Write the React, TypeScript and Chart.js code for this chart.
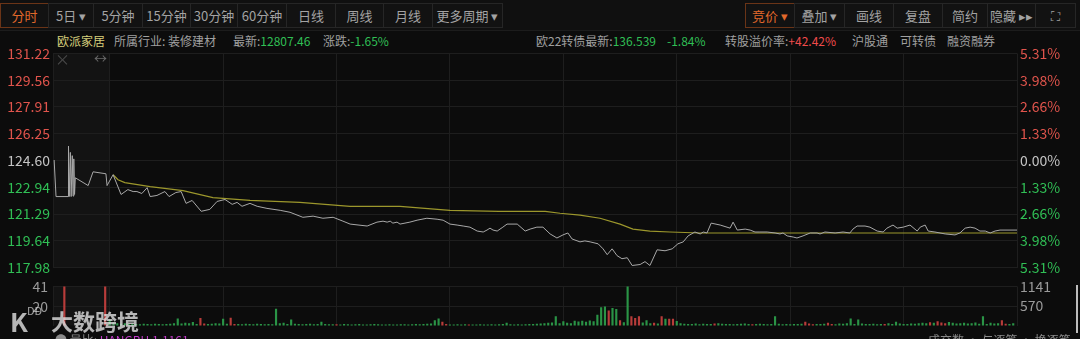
import React, { useEffect, useRef } from 'react';
import { Chart, registerables } from 'chart.js';

Chart.register(...registerables);

// ---------- data ----------
const PREV_CLOSE = 124.6;
const priceTicks = [131.22, 129.56, 127.91, 126.25, 124.6, 122.94, 121.29, 119.64, 117.98];
const pctLabels = ['5.31%', '3.98%', '2.66%', '1.33%', '0.00%', '1.33%', '2.66%', '3.98%', '5.31%'];
// minutes since 9:15 (auction 9:15-9:30, trading 9:30-15:00)
const timeGrid = [0, 15, 45, 75, 105, 135, 165, 195, 225, 255];

const priceTimes = [
  0.3, 0.8, 4.0, 4.1, 4.3, 4.6, 4.8, 5.1, 5.3, 5.5, 5.7, 5.9, 9.3, 10.6, 14.0, 14.3, 15.9,
  18.0, 19.8, 21.2, 22.2, 23.5, 24.9, 25.7, 27.5, 29.6, 30.7, 32.5, 33.9, 35.2, 36.8, 39.2,
  41.5, 43.4, 45.5, 47.4, 48.7, 50.0, 52.1, 54.0, 56.6, 60.1, 62.7, 66.1, 68.8, 71.4, 74.1,
  76.7, 78.6, 83.1, 85.7, 87.3, 88.4, 89.2, 89.9, 91.0, 91.8, 94.4, 96.3, 98.9, 101.6, 103.2,
  105.0, 106.9, 108.5, 110.3, 112.2, 113.8, 114.8, 115.6, 116.4, 117.5, 119.0, 120.1, 122.8,
  124.9, 126.2, 128.0, 129.6, 131.5, 133.3, 134.9, 136.2, 137.3, 139.4, 140.7, 142.1, 144.2,
  145.5, 146.6, 147.9, 149.2, 150.5, 151.9, 153.2, 155.3, 156.6, 157.9, 159.8, 161.9, 163.8,
  165.3, 166.7, 168.0, 169.8, 171.2, 172.0, 173.0, 174.1, 176.5, 179.1, 179.9, 181.0, 183.1,
  184.4, 185.7, 187.0, 188.9, 191.0, 192.3, 193.1, 194.2, 195.8, 196.8, 198.4, 200.3, 202.1,
  202.9, 204.2, 206.9, 209.0, 210.8, 211.6, 212.7, 214.8, 216.1, 218.0, 219.6, 220.6, 222.2,
  223.3, 224.9, 226.7, 228.6, 229.4, 230.7, 231.5, 233.3, 236.0, 238.6, 239.9, 241.3, 242.6,
  243.9, 245.2, 246.6, 247.9, 249.2, 250.5, 255.0,
];
const priceValues = [
  124.63, 122.37, 122.37, 125.49, 122.37, 125.1, 122.37, 124.9, 122.4, 124.7, 122.5, 123.53, 123.05, 123.9, 123.78, 123.05, 123.72,
  122.5, 122.8, 122.68, 122.68, 122.56, 122.92, 122.37, 122.44, 122.68, 122.37, 122.62, 122.68, 121.95, 122.13, 121.46,
  121.58, 122.07, 122.19, 121.89, 122.01, 121.77, 121.95, 121.77, 121.64, 121.52, 121.4, 121.09, 121.16, 121.03, 121.09,
  120.85, 120.67, 120.55, 120.79, 120.85, 120.79, 120.85, 120.73, 120.79, 120.67, 120.79, 120.91, 121.03, 120.97, 120.91,
  120.67, 120.61, 120.55, 120.48, 120.24, 120.18, 120.3, 120.42, 120.3, 120.24, 120.48, 120.67, 120.67,
  120.24, 120.36, 120.48, 120.48, 120.06, 119.81, 120.0, 120.12, 119.75, 119.57, 119.63, 119.57, 119.45,
  119.14, 118.78, 119.14, 118.72, 118.53, 118.59, 118.11, 118.17, 118.35, 118.11, 119.08, 119.02, 119.14,
  119.45, 119.57, 119.94, 120.18, 120.06, 120.18, 120.12, 120.73, 120.61, 120.42, 120.79, 120.3, 120.36,
  120.3, 120.18, 120.18, 120.18, 120.12, 120.06, 120.12, 119.94, 119.87, 119.81, 119.94, 120.12, 120.12,
  120.06, 120.18, 120.12, 120.18, 120.12, 120.36, 120.55, 120.55, 120.48, 120.24, 120.18, 120.42, 120.61,
  120.42, 120.48, 120.61, 120.24, 120.48, 120.61, 120.24, 120.18, 120.06, 120.0, 120.12, 120.42, 120.48,
  120.42, 120.24, 120.24, 120.12, 120.24, 120.3, 120.3,
];

const avgTimes = [15.9, 17.2, 19.0, 25.7, 34.4, 42.3, 52.1, 65.3, 78.6, 91.8, 105.0, 118.0, 130.2, 134.1, 139.4, 144.7, 150.0, 153.4, 157.9, 163.2, 171.2, 255.0];
const avgValues = [123.72, 123.41, 123.23, 122.99, 122.74, 122.31, 122.13, 122.01, 121.77, 121.77, 121.52, 121.46, 121.46, 121.34, 121.22, 121.03, 120.67, 120.36, 120.24, 120.18, 120.12, 120.12];

const auctionVolTimes = [3.0, 13.8];
const auctionVolValues = [41, 41];
const auctionVolTicks = [41, 20];

const tradeVolumes = [
  150, 80, 60, 45, 60, 40, 35, 40, 30, 45, 38, 30, 42, 35, 28, 40, 45, 60, 197, 55, 70, 60, 95, 40, 214, 50, 35, 45, 60, 50,
  190, 45, 221, 40, 35, 30, 45, 38, 30, 42, 35, 28, 40, 30, 483, 60, 75, 40, 166, 45, 35, 30, 38, 42, 30, 35, 102, 40, 32, 28,
  30, 25, 35, 28, 22, 30, 40, 25, 20, 28, 35, 30, 22, 26, 30, 24, 20, 28, 32, 25, 30, 35, 28, 40, 45, 50, 143, 197, 100, 35,
  25, 20, 28, 22, 30, 25, 20, 24, 30, 26, 22, 28, 25, 30, 35, 71, 30, 25, 28, 22, 30, 35, 40, 45, 50, 60, 70, 80, 262, 60,
  120, 70, 60, 130, 110, 130, 100, 140, 120, 309, 523, 547, 428, 500, 476, 143, 90, 1141, 262, 214, 262, 80, 143, 60, 70, 50, 262, 190, 190, 190,
  126, 60, 45, 40, 35, 50, 30, 45, 40, 35, 50, 60, 45, 40, 35, 30, 40, 45, 50, 35, 30, 40, 45, 38, 30, 40, 262, 45, 30, 35,
  30, 35, 40, 45, 102, 50, 30, 40, 35, 45, 71, 40, 30, 50, 45, 60, 197, 40, 166, 55, 40, 35, 45, 30, 35, 40, 60, 40, 102, 50,
  40, 35, 50, 45, 60, 75, 60, 90, 70, 119, 80, 60, 95, 70, 55, 60, 75, 50, 60, 80, 45, 262, 40, 70, 50, 60, 143, 45, 40, 60,
];
const upMinutes = [24, 25, 32, 33, 60, 88, 89, 95, 132, 135, 138, 139, 140, 144, 146, 148, 149, 160, 170, 184, 185, 186, 190, 191, 205, 217, 219, 220, 221, 236, 237];
const tradeVolTicks = [1141, 570];

const leftTabs = ['分时', '5日 ▾', '5分钟', '15分钟', '30分钟', '60分钟', '日线', '周线', '月线', '更多周期 ▾'];
const rightTabs = ['竞价 ▾', '叠加 ▾', '画线', '复盘', '简约', '隐藏 ▸▸', '⛶'];

// ---------- styles ----------
const BG = '#0c0c0c';
const GRID = '#1e1e1e';
const RED = '#e0544c';
const GREEN = '#30bf55';
const GRAY = '#c4c4c4';
const FONT = '"Noto Sans CJK SC", "Noto Sans", sans-serif';

const auctionBg = {
  id: 'auctionBg',
  beforeDraw(chart: any) {
    const { ctx, chartArea, scales } = chart;
    const x = scales.x;
    const x0 = x.getPixelForValue(timeGrid[0]);
    const x1 = x.getPixelForValue(timeGrid[1]);
    ctx.save();
    ctx.fillStyle = '#131313';
    ctx.fillRect(x0, chartArea.top, x1 - x0, chartArea.bottom - chartArea.top);
    ctx.restore();
  },
};

const tickColor = (ctx: any) => {
  const v = ctx.tick ? ctx.tick.value : PREV_CLOSE;
  if (Math.abs(v - PREV_CLOSE) < 0.005) return GRAY;
  return v > PREV_CLOSE ? RED : GREEN;
};

const xScale = {
  type: 'linear',
  min: 0,
  max: 255,
  offset: false,
  afterBuildTicks: (s: any) => {
    s.ticks = timeGrid.map((v) => ({ value: v }));
  },
  ticks: { display: false },
  grid: { color: GRID, drawTicks: false, offset: false },
  border: { display: false },
  afterFit: (s: any) => {
    s.height = 0;
  },
};

function App() {
  const priceRef = useRef<HTMLCanvasElement>(null);
  const volRef = useRef<HTMLCanvasElement>(null);

  useEffect(() => {
    const pc = new Chart(priceRef.current as HTMLCanvasElement, {
      type: 'line',
      data: {
        datasets: [
          {
            label: '价格',
            data: priceTimes.map((t, i) => ({ x: t, y: priceValues[i] })),
            borderColor: '#a9a9a9',
            borderWidth: 1,
            pointRadius: 0,
            tension: 0,
            yAxisID: 'y',
          },
          {
            label: '均价',
            data: avgTimes.map((t, i) => ({ x: t, y: avgValues[i] })),
            borderColor: '#9c972c',
            borderWidth: 1.2,
            pointRadius: 0,
            tension: 0,
            yAxisID: 'y',
          },
        ],
      },
      options: {
        animation: false,
        responsive: false,
        maintainAspectRatio: false,
        layout: { padding: { top: 10, bottom: 10, left: 0, right: 0 } },
        plugins: { legend: { display: false }, tooltip: { enabled: false } },
        scales: {
          x: xScale as any,
          y: {
            position: 'left',
            min: 117.98,
            max: 131.22,
            afterBuildTicks: (s: any) => {
              s.ticks = priceTicks.map((v) => ({ value: v }));
            },
            ticks: {
              color: tickColor as any,
              padding: 3,
              font: { family: FONT, size: 14 },
              callback: (v: any) => Number(v).toFixed(2),
            },
            grid: { color: GRID, drawTicks: false },
            border: { display: false },
            afterFit: (s: any) => {
              s.width = 53;
            },
          },
          y2: {
            position: 'right',
            min: 117.98,
            max: 131.22,
            afterBuildTicks: (s: any) => {
              s.ticks = priceTicks.map((v) => ({ value: v }));
            },
            ticks: {
              color: tickColor as any,
              padding: 3,
              font: { family: FONT, size: 14 },
              callback: (_v: any, i: number) => pctLabels[i],
            },
            grid: { display: false, drawTicks: false },
            border: { display: false },
            afterFit: (s: any) => {
              s.width = 63;
            },
          },
        },
      },
      plugins: [auctionBg],
    } as any);

    const vc = new Chart(volRef.current as HTMLCanvasElement, {
      type: 'bar',
      data: {
        datasets: [
          {
            label: '竞价量',
            data: auctionVolTimes.map((t, i) => ({ x: t, y: auctionVolValues[i] })),
            backgroundColor: '#b83c3a',
            barThickness: 1.5,
            grouped: false,
            yAxisID: 'yL',
          },
          {
            label: '成交量',
            data: tradeVolumes.map((v, i) => ({ x: timeGrid[1] + i, y: v })),
            backgroundColor: tradeVolumes.map((_v, i) => (upMinutes.includes(i) ? '#b83c3a' : '#2a9446')),
            barThickness: 1.5,
            grouped: false,
            yAxisID: 'yR',
          },
        ],
      },
      options: {
        animation: false,
        responsive: false,
        maintainAspectRatio: false,
        layout: { padding: { top: 10, bottom: 8, left: 0, right: 0 } },
        plugins: { legend: { display: false }, tooltip: { enabled: false } },
        scales: {
          x: xScale as any,
          yL: {
            position: 'left',
            min: 0,
            max: 41,
            afterBuildTicks: (s: any) => {
              s.ticks = auctionVolTicks.map((v) => ({ value: v }));
            },
            ticks: { color: '#9a9a9a', padding: 5, font: { family: FONT, size: 14 }, callback: (v: any) => String(v) },
            grid: { display: false, drawTicks: false },
            border: { display: false },
            afterFit: (s: any) => {
              s.width = 53;
            },
          },
          yR: {
            position: 'right',
            min: 0,
            max: 1141,
            afterBuildTicks: (s: any) => {
              s.ticks = tradeVolTicks.map((v) => ({ value: v }));
            },
            ticks: { color: '#9a9a9a', padding: 3, font: { family: FONT, size: 14 }, callback: (v: any) => String(v) },
            grid: { color: GRID, drawTicks: false },
            border: { display: false },
            afterFit: (s: any) => {
              s.width = 63;
            },
          },
        },
      },
      plugins: [auctionBg],
    } as any);

    return () => {
      pc.destroy();
      vc.destroy();
    };
  }, []);

  const leftEdges = [0, 48, 93, 142, 190, 237, 286, 335, 383, 432, 502];
  const rightEdges = [745, 794, 844, 893, 942, 987, 1035, 1075];

  const txt = (s: React.CSSProperties): React.CSSProperties => ({
    position: 'absolute',
    whiteSpace: 'nowrap',
    fontSize: 12,
    lineHeight: '14px',
    ...s,
  });

  const tab = (t: string, l: number, r: number, active: boolean) => (
    <div
      key={t}
      style={{
        position: 'absolute',
        left: l,
        top: 3,
        width: r - l - 1,
        height: 23,
        border: active ? '1px solid #6a3417' : '1px solid #262626',
        background: '#121212',
        color: active ? '#e2692b' : '#a3a3a3',
        fontSize: 13,
        lineHeight: '23px',
        textAlign: 'center',
        boxSizing: 'content-box',
      }}
    >
      {t}
    </div>
  );

  return (
    <div
      style={{
        position: 'fixed',
        left: 0,
        top: 0,
        width: 1080,
        height: 339,
        background: BG,
        overflow: 'hidden',
        fontFamily: FONT,
        color: '#a0a0a0',
      }}
    >
      {/* toolbar */}
      <div style={{ position: 'absolute', left: 0, top: 0, width: 1080, height: 30, background: '#101010' }} />
      {leftTabs.map((t, i) => tab(t, leftEdges[i], leftEdges[i + 1], i === 0))}
      {rightTabs.map((t, i) => tab(t, rightEdges[i], rightEdges[i + 1], i === 0))}
      <div style={{ position: 'absolute', left: 0, top: 30, width: 1080, height: 1, background: '#1c1c1c' }} />

      {/* info row */}
      <span style={txt({ left: 57, top: 34, color: '#d6cf7c' })}>欧派家居</span>
      <span style={txt({ left: 114, top: 34 })}>所属行业: 装修建材</span>
      <span style={txt({ left: 233, top: 34 })}>
        最新:<span style={{ color: GREEN }}>12807.46</span>
      </span>
      <span style={txt({ left: 323, top: 34 })}>
        涨跌:<span style={{ color: GREEN }}>-1.65%</span>
      </span>
      <span style={txt({ left: 536, top: 34 })}>
        欧22转债最新:<span style={{ color: GREEN }}>136.539</span>
      </span>
      <span style={txt({ left: 667, top: 34, color: GREEN })}>-1.84%</span>
      <span style={txt({ left: 725, top: 34 })}>
        转股溢价率:<span style={{ color: '#ef4b4b' }}>+42.42%</span>
      </span>
      <span style={txt({ left: 852, top: 34 })}>沪股通</span>
      <span style={txt({ left: 900, top: 34 })}>可转债</span>
      <span style={txt({ left: 947, top: 34 })}>融资融券</span>

      {/* charts */}
      <canvas ref={priceRef} width={1080} height={237} style={{ position: 'absolute', left: 0, top: 42, width: 1080, height: 237 }} />
      <canvas ref={volRef} width={1080} height={66} style={{ position: 'absolute', left: 0, top: 273, width: 1080, height: 66 }} />

      {/* auction icons */}
      <span style={txt({ left: 55, top: 52, color: '#4a4a4a', fontSize: 15 })}>×</span>
      <span style={txt({ left: 94, top: 51, color: '#6a6a6a', fontSize: 13 })}>↔</span>

      {/* watermark */}
      <span style={txt({ left: 10, top: 306, color: 'rgba(225,225,225,0.8)', fontSize: 26, lineHeight: '30px', fontWeight: 700 })}>K</span>
      <span style={txt({ left: 27, top: 304, color: 'rgba(225,225,225,0.7)', fontSize: 11, lineHeight: '12px' })}>DD</span>
      <span style={txt({ left: 51, top: 306, color: 'rgba(225,225,225,0.8)', fontSize: 22, lineHeight: '28px', fontWeight: 700 })}>大数跨境</span>

      {/* bottom partial row */}
      <span style={txt({ left: 55, top: 333, color: '#8a8a8a' })}>
        ● 量比: <span style={{ color: '#c23ac8' }}>HANGBU 1.1161</span>
      </span>
      <span style={txt({ left: 928, top: 333, color: '#8a8a8a' })}>成交数 · 与逐笔 · 换逐笔</span>
      <div style={{ position: 'absolute', left: 1076, top: 285, width: 2, height: 48, background: '#bdbdbd' }} />
    </div>
  );
}

export default App;
